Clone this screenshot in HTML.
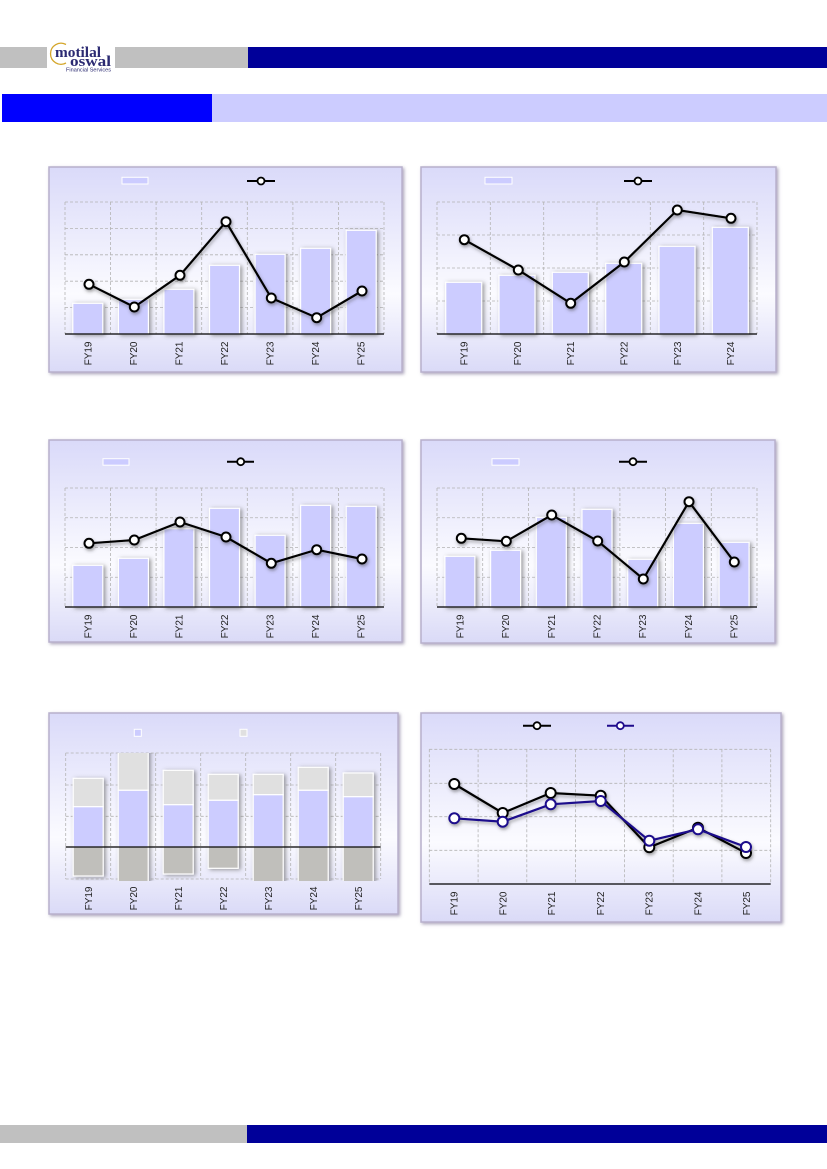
<!DOCTYPE html>
<html><head><meta charset="utf-8"><style>
html,body{margin:0;padding:0;background:#fff;}
svg{display:block;}
text{font-family:"Liberation Sans",sans-serif;}
</style></head><body>
<svg width="827" height="1169" viewBox="0 0 827 1169" xmlns="http://www.w3.org/2000/svg">
<defs>
<linearGradient id="pg" x1="0" y1="0" x2="0" y2="1">
<stop offset="0" stop-color="#dadaf9"/><stop offset="0.62" stop-color="#fbfbff"/><stop offset="1" stop-color="#dadaf7"/>
</linearGradient>
<filter id="ps" x="-5%" y="-5%" width="110%" height="110%"><feDropShadow dx="1.5" dy="1.5" stdDeviation="1.5" flood-color="#8a80a0" flood-opacity="0.7"/></filter>
<filter id="bs" x="-30%" y="-10%" width="160%" height="120%"><feDropShadow dx="2" dy="1" stdDeviation="2" flood-color="#555" flood-opacity="0.6"/></filter>
<filter id="ls" x="-10%" y="-10%" width="120%" height="130%"><feDropShadow dx="1" dy="2" stdDeviation="1.5" flood-color="#444" flood-opacity="0.5"/></filter>
<clipPath id="c5"><rect x="60" y="753" width="330" height="128"/></clipPath>
</defs>

<!-- Header -->
<rect x="0" y="47" width="47" height="21" fill="#c0c0c0"/>
<rect x="115" y="47" width="133" height="21" fill="#c0c0c0"/>
<rect x="248" y="47" width="579" height="21" fill="#000099"/>
<path d="M66 44.5 A10.5 10.5 0 1 0 66 63" fill="none" stroke="#d4a62a" stroke-width="1.3"/>
<text x="55" y="57" style="font-family:'Liberation Serif',serif;font-weight:bold" font-size="15" fill="#2b2a72" textLength="46" lengthAdjust="spacingAndGlyphs">motilal</text>
<text x="70" y="66" style="font-family:'Liberation Serif',serif;font-weight:bold" font-size="15" fill="#2b2a72" textLength="41" lengthAdjust="spacingAndGlyphs">oswal</text>
<text x="66" y="71.5" font-size="5" fill="#2b2a72" textLength="45" lengthAdjust="spacingAndGlyphs">Financial Services</text>

<!-- Section bar -->
<rect x="2" y="94" width="210" height="28" fill="#0000ff"/>
<rect x="212" y="94" width="615" height="28" fill="#ccccff"/>

<!-- Footer -->
<rect x="0" y="1125" width="247" height="18" fill="#c0c0c0"/>
<rect x="247" y="1125" width="580" height="18" fill="#000099"/>

<!-- ============ PANEL 1 ============ -->
<rect x="49" y="167" width="353" height="205" fill="url(#pg)" stroke="#b8b0cc" stroke-width="1.5" filter="url(#ps)"/>
<g stroke="#b4b4b4" stroke-width="0.8" stroke-dasharray="3,2" fill="none">
<path d="M65 202H384M65 228.4H384M65 254.8H384M65 281.2H384M65 307.6H384"/>
<path d="M65 202V334M110.6 202V334M156.1 202V334M201.7 202V334M247.3 202V334M292.9 202V334M338.4 202V334M384 202V334"/>
</g>
<g fill="#ccccff" stroke="#fff" stroke-width="1.2" filter="url(#bs)">
<rect x="72.8" y="303.3" width="30" height="30.7"/>
<rect x="118.4" y="299.3" width="30" height="34.7"/>
<rect x="163.9" y="289.3" width="30" height="44.7"/>
<rect x="209.5" y="265.3" width="30" height="68.7"/>
<rect x="255.1" y="254.3" width="30" height="79.7"/>
<rect x="300.6" y="248.3" width="30" height="85.7"/>
<rect x="346.2" y="230.3" width="30" height="103.7"/>
</g>
<line x1="65" y1="334" x2="384" y2="334" stroke="#000" stroke-width="1.3"/>
<g filter="url(#ls)">
<polyline points="89,284.3 134.3,307 180,275.3 226,221.7 271.3,298 316.7,317.7 362,291" fill="none" stroke="#000" stroke-width="2.2"/>
<g fill="#fff" stroke="#000" stroke-width="2">
<circle cx="89" cy="284.3" r="4.5"/><circle cx="134.3" cy="307" r="4.5"/><circle cx="180" cy="275.3" r="4.5"/><circle cx="226" cy="221.7" r="4.5"/><circle cx="271.3" cy="298" r="4.5"/><circle cx="316.7" cy="317.7" r="4.5"/><circle cx="362" cy="291" r="4.5"/>
</g></g>
<rect x="122" y="177.3" width="26" height="6.7" fill="#ccccff" stroke="#fff" stroke-width="1"/>
<line x1="247" y1="181" x2="275" y2="181" stroke="#000" stroke-width="2"/>
<circle cx="261" cy="181" r="3.5" fill="#fff" stroke="#000" stroke-width="1.8"/>
<g font-size="10" fill="#222" text-anchor="end">
<text transform="translate(91.5,341.5) rotate(-90)">FY19</text>
<text transform="translate(137,341.5) rotate(-90)">FY20</text>
<text transform="translate(182.5,341.5) rotate(-90)">FY21</text>
<text transform="translate(228,341.5) rotate(-90)">FY22</text>
<text transform="translate(273.6,341.5) rotate(-90)">FY23</text>
<text transform="translate(319.2,341.5) rotate(-90)">FY24</text>
<text transform="translate(364.7,341.5) rotate(-90)">FY25</text>
</g>

<!-- ============ PANEL 2 ============ -->
<rect x="421" y="167" width="355" height="205" fill="url(#pg)" stroke="#b8b0cc" stroke-width="1.5" filter="url(#ps)"/>
<g stroke="#b4b4b4" stroke-width="0.8" stroke-dasharray="3,2" fill="none">
<path d="M437 202H757M437 235H757M437 268H757M437 301H757"/>
<path d="M437 202V334M490.3 202V334M543.7 202V334M597 202V334M650.3 202V334M703.7 202V334M757 202V334"/>
</g>
<g fill="#ccccff" stroke="#fff" stroke-width="1.2" filter="url(#bs)">
<rect x="445.7" y="282.3" width="36" height="51.7"/>
<rect x="499" y="275.3" width="36" height="58.7"/>
<rect x="552.3" y="272.3" width="36" height="61.7"/>
<rect x="605.7" y="263.3" width="36" height="70.7"/>
<rect x="659" y="246.3" width="36" height="87.7"/>
<rect x="712.3" y="227.3" width="36" height="106.7"/>
</g>
<line x1="437" y1="334" x2="757" y2="334" stroke="#000" stroke-width="1.3"/>
<g filter="url(#ls)">
<polyline points="464.3,239.7 518.3,270 570.7,303.3 624.3,262 677.3,210 731,218.3" fill="none" stroke="#000" stroke-width="2.2"/>
<g fill="#fff" stroke="#000" stroke-width="2">
<circle cx="464.3" cy="239.7" r="4.5"/><circle cx="518.3" cy="270" r="4.5"/><circle cx="570.7" cy="303.3" r="4.5"/><circle cx="624.3" cy="262" r="4.5"/><circle cx="677.3" cy="210" r="4.5"/><circle cx="731" cy="218.3" r="4.5"/>
</g></g>
<rect x="485" y="177.3" width="27" height="6.7" fill="#ccccff" stroke="#fff" stroke-width="1"/>
<line x1="624" y1="181" x2="652" y2="181" stroke="#000" stroke-width="2"/>
<circle cx="638" cy="181" r="3.5" fill="#fff" stroke="#000" stroke-width="1.8"/>
<g font-size="10" fill="#222" text-anchor="end">
<text transform="translate(467.5,341.5) rotate(-90)">FY19</text>
<text transform="translate(520.8,341.5) rotate(-90)">FY20</text>
<text transform="translate(574.1,341.5) rotate(-90)">FY21</text>
<text transform="translate(627.5,341.5) rotate(-90)">FY22</text>
<text transform="translate(680.8,341.5) rotate(-90)">FY23</text>
<text transform="translate(734.1,341.5) rotate(-90)">FY24</text>
</g>

<!-- ============ PANEL 3 ============ -->
<rect x="49" y="440" width="353" height="202" fill="url(#pg)" stroke="#b8b0cc" stroke-width="1.5" filter="url(#ps)"/>
<g stroke="#b4b4b4" stroke-width="0.8" stroke-dasharray="3,2" fill="none">
<path d="M65 488H384M65 517.75H384M65 547.5H384M65 577.25H384"/>
<path d="M65 488V607M110.6 488V607M156.1 488V607M201.7 488V607M247.3 488V607M292.9 488V607M338.4 488V607M384 488V607"/>
</g>
<g fill="#ccccff" stroke="#fff" stroke-width="1.2" filter="url(#bs)">
<rect x="72.8" y="565.3" width="30" height="41.7"/>
<rect x="118.4" y="558.3" width="30" height="48.7"/>
<rect x="163.9" y="528.7" width="30" height="78.3"/>
<rect x="209.5" y="508.3" width="30" height="98.7"/>
<rect x="255.1" y="535.3" width="30" height="71.7"/>
<rect x="300.6" y="505.3" width="30" height="101.7"/>
<rect x="346.2" y="506.3" width="30" height="100.7"/>
</g>
<line x1="65" y1="607" x2="384" y2="607" stroke="#000" stroke-width="1.3"/>
<g filter="url(#ls)">
<polyline points="89,543.3 134.3,540 180,522 226,537 271.3,563.3 316.7,549.7 362,559" fill="none" stroke="#000" stroke-width="2.2"/>
<g fill="#fff" stroke="#000" stroke-width="2">
<circle cx="89" cy="543.3" r="4.5"/><circle cx="134.3" cy="540" r="4.5"/><circle cx="180" cy="522" r="4.5"/><circle cx="226" cy="537" r="4.5"/><circle cx="271.3" cy="563.3" r="4.5"/><circle cx="316.7" cy="549.7" r="4.5"/><circle cx="362" cy="559" r="4.5"/>
</g></g>
<rect x="103" y="458.7" width="26" height="6.5" fill="#ccccff" stroke="#fff" stroke-width="1"/>
<line x1="227" y1="461.7" x2="254" y2="461.7" stroke="#000" stroke-width="2"/>
<circle cx="240.7" cy="461.7" r="3.5" fill="#fff" stroke="#000" stroke-width="1.8"/>
<g font-size="10" fill="#222" text-anchor="end">
<text transform="translate(91.5,614.5) rotate(-90)">FY19</text>
<text transform="translate(137,614.5) rotate(-90)">FY20</text>
<text transform="translate(182.5,614.5) rotate(-90)">FY21</text>
<text transform="translate(228,614.5) rotate(-90)">FY22</text>
<text transform="translate(273.6,614.5) rotate(-90)">FY23</text>
<text transform="translate(319.2,614.5) rotate(-90)">FY24</text>
<text transform="translate(364.7,614.5) rotate(-90)">FY25</text>
</g>

<!-- ============ PANEL 4 ============ -->
<rect x="421" y="440" width="354" height="203" fill="url(#pg)" stroke="#b8b0cc" stroke-width="1.5" filter="url(#ps)"/>
<g stroke="#b4b4b4" stroke-width="0.8" stroke-dasharray="3,2" fill="none">
<path d="M437 488H757M437 517.75H757M437 547.5H757M437 577.25H757"/>
<path d="M437 488V607M482.7 488V607M528.4 488V607M574.1 488V607M619.9 488V607M665.6 488V607M711.3 488V607M757 488V607"/>
</g>
<g fill="#ccccff" stroke="#fff" stroke-width="1.2" filter="url(#bs)">
<rect x="444.9" y="556.3" width="30" height="50.7"/>
<rect x="490.6" y="550.3" width="30" height="56.7"/>
<rect x="536.3" y="517.3" width="30" height="89.7"/>
<rect x="582" y="509.3" width="30" height="97.7"/>
<rect x="627.7" y="559.3" width="30" height="47.7"/>
<rect x="673.4" y="523.3" width="30" height="83.7"/>
<rect x="719.1" y="542.3" width="30" height="64.7"/>
</g>
<line x1="437" y1="607" x2="757" y2="607" stroke="#000" stroke-width="1.3"/>
<g filter="url(#ls)">
<polyline points="461.3,538.3 506.3,541.3 551.7,515 597.7,541 643.3,579 689,501.7 734.3,562" fill="none" stroke="#000" stroke-width="2.2"/>
<g fill="#fff" stroke="#000" stroke-width="2">
<circle cx="461.3" cy="538.3" r="4.5"/><circle cx="506.3" cy="541.3" r="4.5"/><circle cx="551.7" cy="515" r="4.5"/><circle cx="597.7" cy="541" r="4.5"/><circle cx="643.3" cy="579" r="4.5"/><circle cx="689" cy="501.7" r="4.5"/><circle cx="734.3" cy="562" r="4.5"/>
</g></g>
<rect x="492" y="458.7" width="27" height="6.5" fill="#ccccff" stroke="#fff" stroke-width="1"/>
<line x1="619" y1="461.7" x2="647" y2="461.7" stroke="#000" stroke-width="2"/>
<circle cx="633" cy="461.7" r="3.5" fill="#fff" stroke="#000" stroke-width="1.8"/>
<g font-size="10" fill="#222" text-anchor="end">
<text transform="translate(463.4,614.5) rotate(-90)">FY19</text>
<text transform="translate(509.1,614.5) rotate(-90)">FY20</text>
<text transform="translate(554.8,614.5) rotate(-90)">FY21</text>
<text transform="translate(600.5,614.5) rotate(-90)">FY22</text>
<text transform="translate(646.2,614.5) rotate(-90)">FY23</text>
<text transform="translate(691.9,614.5) rotate(-90)">FY24</text>
<text transform="translate(737.6,614.5) rotate(-90)">FY25</text>
</g>

<!-- ============ PANEL 5 ============ -->
<rect x="49" y="713" width="349" height="201" fill="url(#pg)" stroke="#b8b0cc" stroke-width="1.5" filter="url(#ps)"/>
<g stroke="#b4b4b4" stroke-width="0.8" stroke-dasharray="3,2" fill="none">
<path d="M65.7 753H380.7M65.7 785H380.7M65.7 816.3H380.7M65.7 879H380.7"/>
<path d="M65.7 753V879M110.7 753V879M155.7 753V879M200.7 753V879M245.7 753V879M290.7 753V879M335.7 753V879M380.7 753V879"/>
</g>
<g clip-path="url(#c5)">
<g stroke="#fff" stroke-width="1.2" filter="url(#bs)">
<rect x="73.2" y="778.3" width="30" height="28.4" fill="#e0e0e0"/><rect x="73.2" y="806.7" width="30" height="40.3" fill="#ccccff"/><rect x="73.2" y="847" width="30" height="29" fill="#c0bfbb"/>
<rect x="118.2" y="748" width="30" height="42.3" fill="#e0e0e0"/><rect x="118.2" y="790.3" width="30" height="56.7" fill="#ccccff"/><rect x="118.2" y="847" width="30" height="40" fill="#c0bfbb"/>
<rect x="163.2" y="770.3" width="30" height="34.4" fill="#e0e0e0"/><rect x="163.2" y="804.7" width="30" height="42.3" fill="#ccccff"/><rect x="163.2" y="847" width="30" height="27" fill="#c0bfbb"/>
<rect x="208.2" y="774.3" width="30" height="26" fill="#e0e0e0"/><rect x="208.2" y="800.3" width="30" height="46.7" fill="#ccccff"/><rect x="208.2" y="847" width="30" height="21.3" fill="#c0bfbb"/>
<rect x="253.2" y="774.3" width="30" height="20.4" fill="#e0e0e0"/><rect x="253.2" y="794.7" width="30" height="52.3" fill="#ccccff"/><rect x="253.2" y="847" width="30" height="40" fill="#c0bfbb"/>
<rect x="298.2" y="767.3" width="30" height="23" fill="#e0e0e0"/><rect x="298.2" y="790.3" width="30" height="56.7" fill="#ccccff"/><rect x="298.2" y="847" width="30" height="40" fill="#c0bfbb"/>
<rect x="343.2" y="773" width="30" height="23.7" fill="#e0e0e0"/><rect x="343.2" y="796.7" width="30" height="50.3" fill="#ccccff"/><rect x="343.2" y="847" width="30" height="40" fill="#c0bfbb"/>
</g>
</g>
<line x1="65.7" y1="847" x2="380.7" y2="847" stroke="#000" stroke-width="1.3"/>
<rect x="134.3" y="729.3" width="7" height="7" fill="#ccccff" stroke="#fff" stroke-width="1"/>
<rect x="240" y="729.3" width="7" height="7" fill="#e0e0e0" stroke="#fff" stroke-width="1"/>
<g font-size="10" fill="#222" text-anchor="end">
<text transform="translate(91.8,886.5) rotate(-90)">FY19</text>
<text transform="translate(136.8,886.5) rotate(-90)">FY20</text>
<text transform="translate(181.8,886.5) rotate(-90)">FY21</text>
<text transform="translate(226.8,886.5) rotate(-90)">FY22</text>
<text transform="translate(271.8,886.5) rotate(-90)">FY23</text>
<text transform="translate(316.8,886.5) rotate(-90)">FY24</text>
<text transform="translate(361.8,886.5) rotate(-90)">FY25</text>
</g>

<!-- ============ PANEL 6 ============ -->
<rect x="421" y="713" width="360" height="209" fill="url(#pg)" stroke="#b8b0cc" stroke-width="1.5" filter="url(#ps)"/>
<g stroke="#b4b4b4" stroke-width="0.8" stroke-dasharray="3,2" fill="none">
<path d="M429.3 749.3H770.7M429.3 783.3H770.7M429.3 816.7H770.7M429.3 850.3H770.7"/>
<path d="M429.3 749.3V884M478.1 749.3V884M526.8 749.3V884M575.6 749.3V884M624.4 749.3V884M673.2 749.3V884M721.9 749.3V884M770.7 749.3V884"/>
</g>
<line x1="429.3" y1="884" x2="770.7" y2="884" stroke="#000" stroke-width="1.3"/>
<g filter="url(#ls)">
<polyline points="454.3,784 502.7,813 550.7,793 600.7,795.7 649.3,847.3 698,827.7 746,853" fill="none" stroke="#000" stroke-width="2.2"/>
<g fill="#fff" stroke="#000" stroke-width="2">
<circle cx="454.3" cy="784" r="5"/><circle cx="502.7" cy="813" r="5"/><circle cx="550.7" cy="793" r="5"/><circle cx="600.7" cy="795.7" r="5"/><circle cx="649.3" cy="847.3" r="5"/><circle cx="698" cy="827.7" r="5"/><circle cx="746" cy="853" r="5"/>
</g>
<polyline points="454.3,818.3 502.7,821.7 550.7,804.3 600.7,801 649.3,840.7 698,829.3 746,847" fill="none" stroke="#1e0a8c" stroke-width="2.2"/>
<g fill="#fff" stroke="#1e0a8c" stroke-width="2">
<circle cx="454.3" cy="818.3" r="5"/><circle cx="502.7" cy="821.7" r="5"/><circle cx="550.7" cy="804.3" r="5"/><circle cx="600.7" cy="801" r="5"/><circle cx="649.3" cy="840.7" r="5"/><circle cx="698" cy="829.3" r="5"/><circle cx="746" cy="847" r="5"/>
</g></g>
<line x1="523" y1="725.7" x2="551" y2="725.7" stroke="#000" stroke-width="2"/>
<circle cx="537" cy="725.7" r="3.5" fill="#fff" stroke="#000" stroke-width="1.8"/>
<line x1="607" y1="725.7" x2="634" y2="725.7" stroke="#1e0a8c" stroke-width="2"/>
<circle cx="620.3" cy="725.7" r="3.5" fill="#fff" stroke="#1e0a8c" stroke-width="1.8"/>
<g font-size="10" fill="#222" text-anchor="end">
<text transform="translate(457.5,891.5) rotate(-90)">FY19</text>
<text transform="translate(506.3,891.5) rotate(-90)">FY20</text>
<text transform="translate(555,891.5) rotate(-90)">FY21</text>
<text transform="translate(603.8,891.5) rotate(-90)">FY22</text>
<text transform="translate(652.6,891.5) rotate(-90)">FY23</text>
<text transform="translate(701.4,891.5) rotate(-90)">FY24</text>
<text transform="translate(750.1,891.5) rotate(-90)">FY25</text>
</g>
</svg>
</body></html>
